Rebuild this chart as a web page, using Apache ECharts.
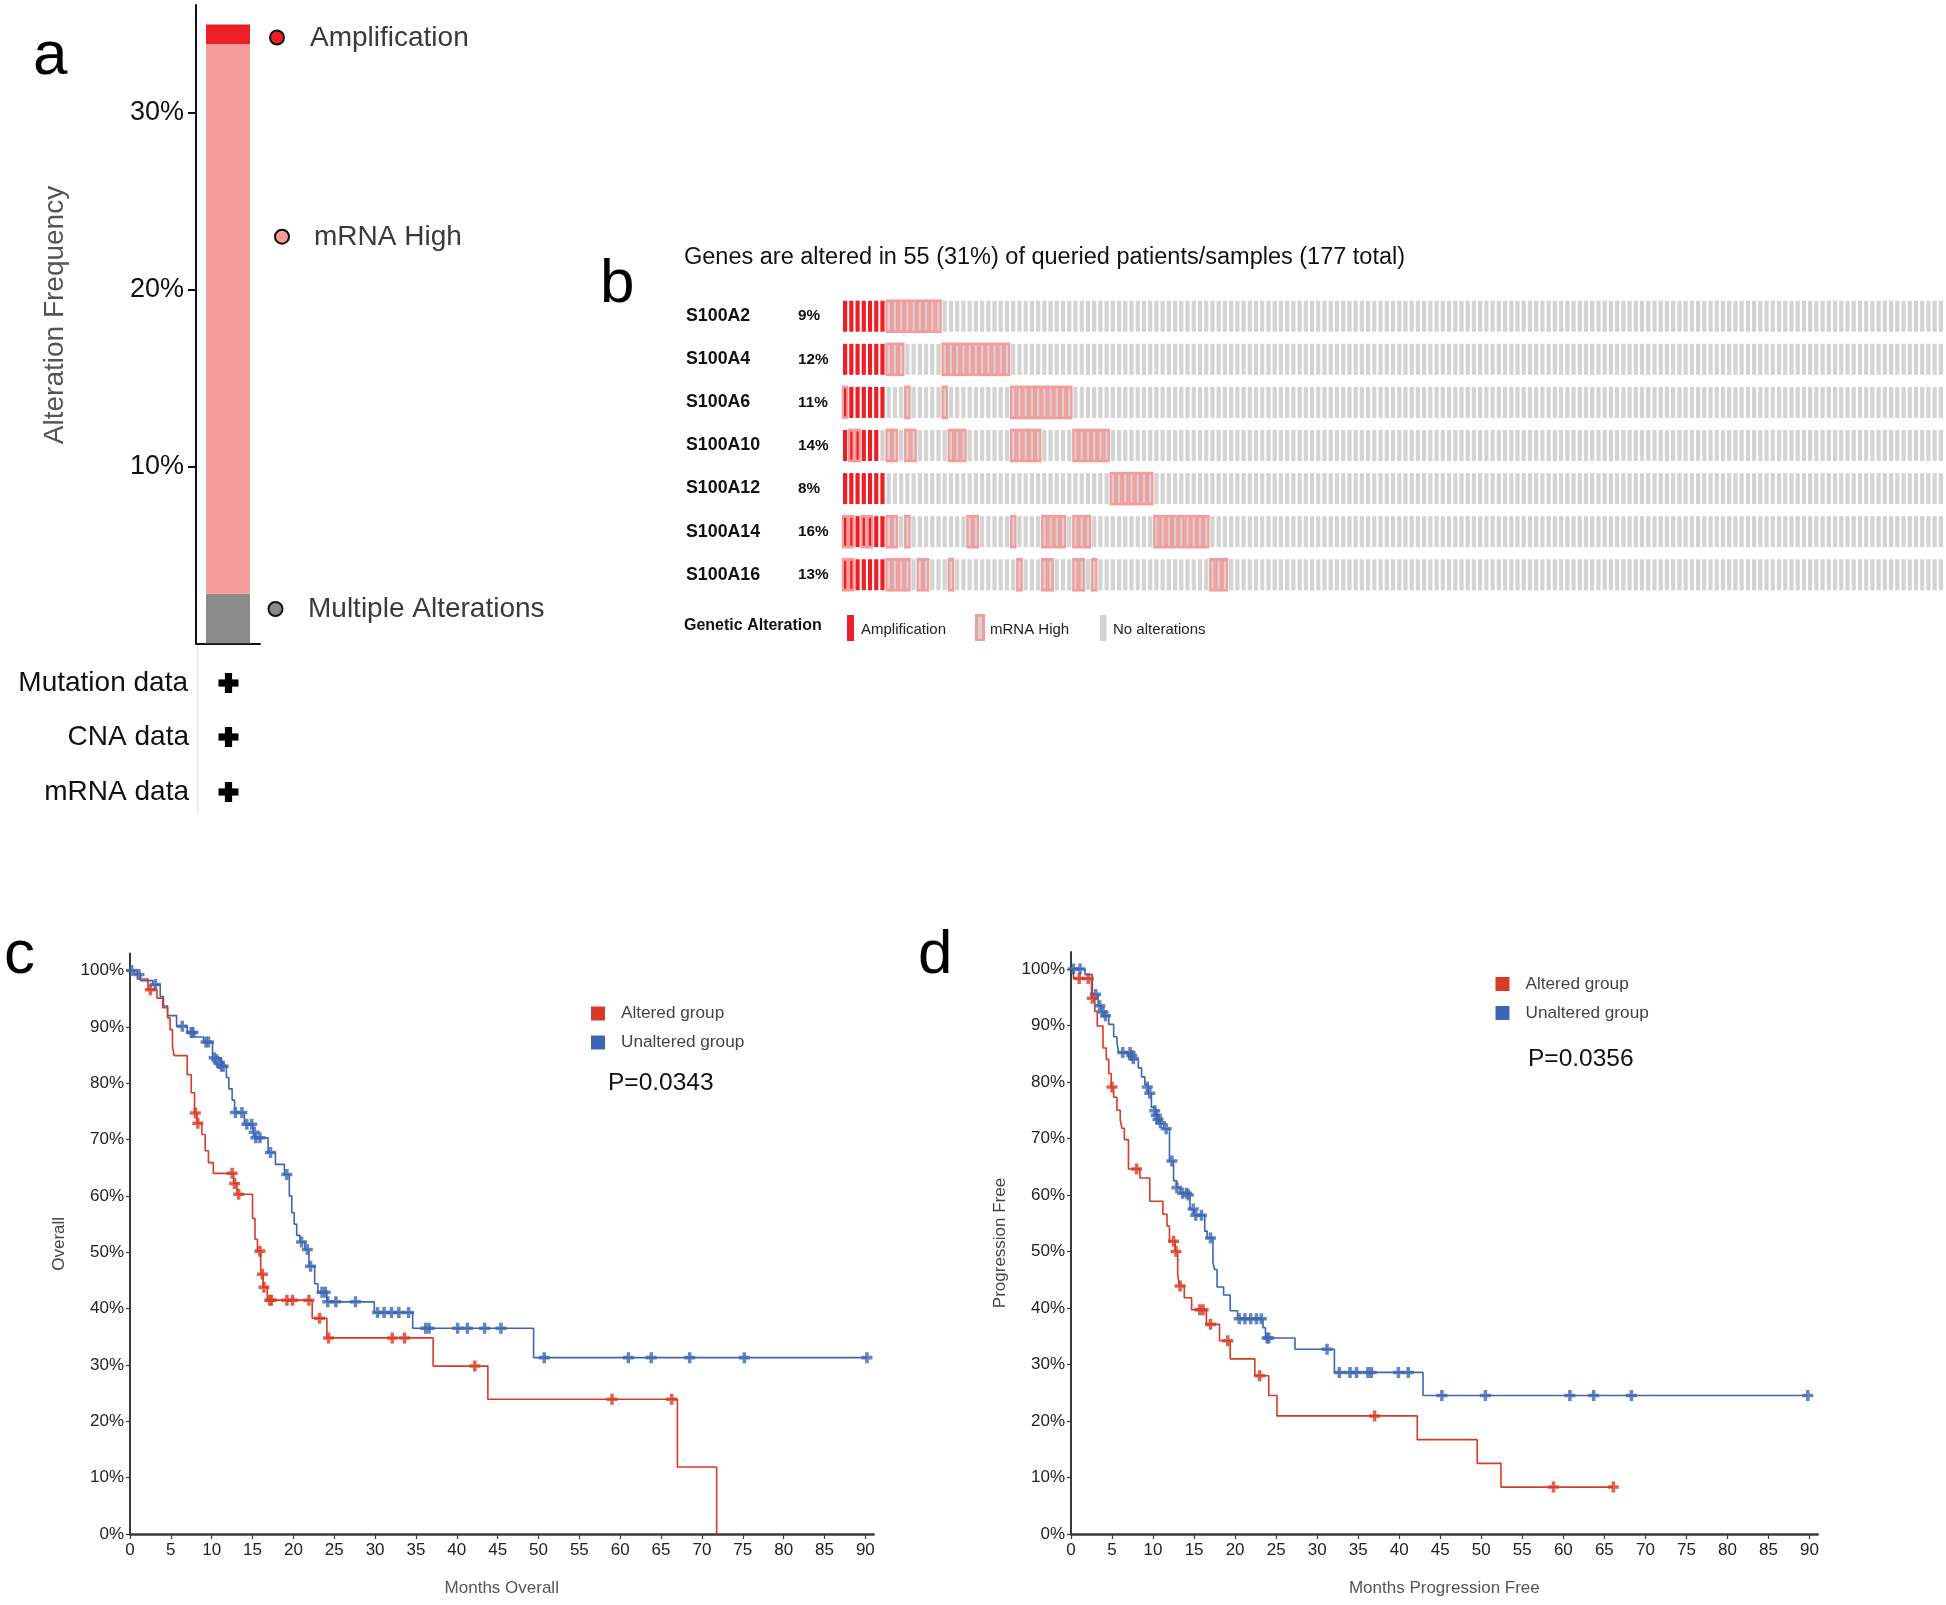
<!DOCTYPE html>
<html><head><meta charset="utf-8">
<script src="https://cdn.jsdelivr.net/npm/echarts@6/dist/echarts.min.js"></script>
<style>html,body{margin:0;padding:0;background:#fff}#chart{width:1946px;height:1605px}</style>
</head><body><div id="chart"></div>
<script>
const FONT = "'Liberation Sans', Arial, Helvetica, sans-serif";

// ---------- Panel a: alteration frequency ----------
const aCategory = ['S100 family'];
const multipleAlterations = [2.8];
const mrnaHighFreq = [31.1];
const amplificationFreq = [1.1];
const aYTicks = [10, 20, 30];
const dataTypes = ['Mutation data', 'CNA data', 'mRNA data'];

// ---------- Panel b: oncoprint ----------
const genes = ['S100A2', 'S100A4', 'S100A6', 'S100A10', 'S100A12', 'S100A14', 'S100A16'];
const genePct = ['9%', '12%', '11%', '14%', '8%', '16%', '13%'];
const sampleTotal = 177;
const ampS100A2 = [0, 1, 2, 3, 4, 5, 6];
const ampS100A4 = [0, 1, 2, 3, 4, 5, 6];
const ampS100A6 = [0, 1, 2, 3, 4, 5, 6];
const ampS100A10 = [0, 1, 2, 3, 4, 5];
const ampS100A12 = [0, 1, 2, 3, 4, 5, 6];
const ampS100A14 = [0, 1, 2, 3, 4, 5, 6];
const ampS100A16 = [0, 1, 2, 3, 4, 5, 6];
const mrnaS100A2 = [7, 8, 9, 10, 11, 12, 13, 14, 15];
const mrnaS100A4 = [7, 8, 9, 16, 17, 18, 19, 20, 21, 22, 23, 24, 25, 26];
const mrnaS100A6 = [0, 10, 16, 27, 28, 29, 30, 31, 32, 33, 34, 35, 36];
const mrnaS100A10 = [1, 2, 7, 8, 10, 11, 17, 18, 19, 27, 28, 29, 30, 31, 37, 38, 39, 40, 41, 42];
const mrnaS100A12 = [43, 44, 45, 46, 47, 48, 49];
const mrnaS100A14 = [0, 1, 3, 4, 7, 8, 10, 20, 21, 27, 32, 33, 34, 35, 37, 38, 39, 50, 51, 52, 53, 54, 55, 56, 57, 58];
const mrnaS100A16 = [0, 1, 7, 8, 9, 10, 12, 13, 17, 28, 32, 33, 37, 38, 40, 59, 60, 61];

// ---------- Panels c/d: Kaplan-Meier ----------
const kmXTicks = [0, 5, 10, 15, 20, 25, 30, 35, 40, 45, 50, 55, 60, 65, 70, 75, 80, 85, 90];
const kmYTicks = [0, 10, 20, 30, 40, 50, 60, 70, 80, 90, 100];

const osAlteredSteps = [[0,100],[0.9,98.5],[2.2,96.6],[3.3,95.1],[4.0,93.4],[4.6,91.6],[4.9,89.5],[5.2,86.6],[5.4,84.9],[7.0,81.5],[7.5,78.3],[7.9,74.7],[8.2,72.9],[8.8,70.9],[9.2,68.0],[9.6,65.9],[10.2,64.0],[12.7,62.2],[13.1,60.3],[15.0,56.0],[15.3,52.3],[15.6,50.2],[16.0,46.1],[16.3,43.8],[16.8,41.5],[22.3,38.3],[24.1,34.8],[37.1,29.8],[43.8,23.9],[67.0,11.9],[71.8,0]];
const osAlteredCensor = [[2.5,96.6],[8.0,74.7],[8.3,72.9],[12.5,64.0],[12.8,62.2],[13.3,60.3],[15.9,50.2],[16.2,46.1],[16.4,43.8],[17.1,41.5],[17.3,41.5],[19.2,41.5],[19.9,41.5],[21.9,41.5],[23.2,38.3],[24.3,34.8],[32.1,34.8],[33.6,34.8],[42.2,29.8],[59.0,23.9],[66.3,23.9]];
const osUnalteredSteps = [[0,100],[0.5,99.4],[1.3,98.2],[2.8,97.5],[3.7,95.4],[4.1,93.7],[4.6,92.0],[5.7,90.1],[7.0,89.0],[7.9,88.2],[9.0,87.3],[10.1,84.5],[11.2,83.0],[11.8,81.0],[12.1,79.0],[12.5,77.0],[12.8,74.8],[14.0,72.7],[15.1,71.3],[15.3,70.3],[16.9,67.7],[17.8,65.6],[18.9,63.8],[19.5,60.0],[19.8,57.0],[20.1,55.0],[20.4,53.0],[20.8,51.8],[21.4,50.5],[21.9,47.5],[22.6,44.4],[23.0,42.9],[24.1,41.2],[29.9,39.3],[34.6,36.5],[49.4,31.3],[90.2,31.3]];
const osUnalteredCensor = [[0.2,100],[1.1,99.3],[3.1,97.5],[6.4,90.1],[7.5,89.0],[7.7,89.0],[9.3,87.3],[9.6,87.3],[10.3,84.5],[10.6,84.2],[10.9,83.5],[11.2,83.0],[11.4,83.0],[12.9,74.8],[13.7,74.8],[14.3,72.7],[14.9,72.7],[15.2,71.3],[15.4,70.3],[15.9,70.3],[17.2,67.7],[19.2,63.8],[21.0,51.8],[21.7,50.5],[22.1,47.5],[23.5,42.9],[23.9,42.9],[24.2,41.2],[25.2,41.2],[27.6,41.2],[30.3,39.3],[31.1,39.3],[32.0,39.3],[32.9,39.3],[34.1,39.3],[36.2,36.5],[36.6,36.5],[40.1,36.5],[41.3,36.5],[43.4,36.5],[45.4,36.5],[50.7,31.3],[61.0,31.3],[63.8,31.3],[68.5,31.3],[75.2,31.3],[90.2,31.3]];

const pfsAlteredSteps = [[0,100],[0.3,98.3],[2.5,94.8],[2.9,92.5],[3.2,89.9],[3.9,86.0],[4.3,84.0],[4.6,81.5],[4.9,79.1],[5.2,77.3],[5.6,75.0],[6.0,73.3],[6.2,71.8],[6.5,69.8],[7.0,64.6],[8.4,63.0],[9.6,58.9],[11.2,56.6],[11.7,54.5],[12.0,51.8],[12.7,50.0],[13.0,46.0],[13.2,43.9],[13.8,41.8],[14.7,39.7],[16.5,37.1],[18.1,34.2],[19.4,31.0],[22.4,28.0],[24.1,24.5],[25.1,20.9],[42.2,16.7],[49.5,12.5],[52.4,8.3],[66.1,8.3]];
const pfsAlteredCensor = [[1.0,98.3],[2.1,98.3],[2.6,94.8],[5.0,79.1],[8.0,64.6],[12.5,51.8],[12.8,50.0],[13.3,43.9],[15.7,39.7],[16.1,39.7],[17.0,37.1],[19.1,34.2],[23.0,28.0],[37.0,20.9],[58.8,8.3],[66.1,8.3]];
const pfsUnalteredSteps = [[0,100],[1.7,99.0],[2.6,95.5],[3.3,93.5],[3.7,92.4],[4.0,91.7],[4.6,90.2],[5.2,88.0],[5.6,87.0],[5.8,85.2],[7.0,84.5],[7.4,84.0],[8.2,82.5],[8.6,80.9],[9.0,79.5],[9.4,78.0],[9.8,75.5],[10.3,74.3],[10.6,73.1],[10.9,72.6],[11.3,71.7],[12.0,66.0],[12.5,62.5],[12.9,61.3],[13.3,60.3],[14.5,57.5],[15.0,56.4],[16.3,53.6],[16.6,52.4],[17.3,48.0],[17.5,46.8],[17.8,43.7],[18.6,42.3],[19.4,39.5],[20.3,38.1],[23.4,36.5],[23.7,34.7],[27.3,32.7],[32.1,28.6],[42.9,24.5],[89.8,24.5]];
const pfsUnalteredCensor = [[0.3,100],[1.1,100],[3.0,95.5],[3.5,93.5],[3.9,92.4],[4.2,91.7],[6.3,85.2],[7.2,85.2],[7.4,84.7],[7.6,84.1],[9.3,79.1],[9.6,78.0],[10.2,74.9],[10.4,74.1],[10.6,73.4],[10.9,72.8],[11.6,71.7],[12.3,66.0],[12.9,61.3],[13.6,60.3],[14.1,60.3],[14.3,60.0],[14.9,57.5],[15.2,56.4],[15.9,56.4],[17.0,52.4],[20.5,38.1],[21.2,38.1],[21.9,38.1],[22.6,38.1],[23.2,38.1],[23.9,34.7],[24.1,34.7],[31.2,32.7],[32.7,28.6],[34.0,28.6],[34.8,28.6],[36.2,28.6],[36.6,28.6],[39.9,28.6],[41.1,28.6],[45.2,24.5],[50.5,24.5],[60.8,24.5],[63.7,24.5],[68.3,24.5],[89.8,24.5]];

// ---------- build oncoprint table ----------
const ampLists = [ampS100A2, ampS100A4, ampS100A6, ampS100A10, ampS100A12, ampS100A14, ampS100A16];
const mrnaLists = [mrnaS100A2, mrnaS100A4, mrnaS100A6, mrnaS100A10, mrnaS100A12, mrnaS100A14, mrnaS100A16];
const cells = [];
for (let g = 0; g < genes.length; g++) {
  for (let i = 0; i < sampleTotal; i++) {
    let t = 0;
    if (ampLists[g].includes(i)) t |= 1;
    if (mrnaLists[g].includes(i)) t |= 2;
    cells.push([i, g, t]);
  }
}

const C_AMP = '#ec1f26', C_MRNA = '#f49c9c', C_NONE = '#d3d3d3', C_MULTI = '#8a8a8a';
const RED = '#d93a26', BLUE = '#3c66b4';
const PLUS = 'path://M3.4,0H6.6V3.4H10V6.6H6.6V10H3.4V6.6H0V3.4H3.4Z';
const CELL_H = 31;

function plusGlyph(cx, cy) {
  return [
    { type: 'rect', shape: { x: cx - 10, y: cy - 3.6, width: 20, height: 7.2 }, style: { fill: '#000' } },
    { type: 'rect', shape: { x: cx - 3.6, y: cy - 10, width: 7.2, height: 20 }, style: { fill: '#000' } }
  ];
}
function txt(text, x, y, size, opts) {
  opts = opts || {};
  return {
    type: 'text', x: x, y: y, rotation: opts.rotation || 0,
    style: {
      text: text, fill: opts.color || '#111',
      font: (opts.weight || 'normal') + ' ' + size + 'px ' + FONT,
      align: opts.align || 'left', verticalAlign: opts.valign || 'middle',
      textAlign: opts.align || 'left', textVerticalAlign: opts.valign || 'middle'
    }
  };
}

function kmX(gi, name) {
  return {
    gridIndex: gi, type: 'value', min: 0, max: 91, interval: 5,
    axisLine: { show: true, lineStyle: { color: '#3a3a3a', width: 2.5 } },
    axisTick: { show: true, length: 5, customValues: kmXTicks, lineStyle: { color: '#3a3a3a', width: 1.2 } },
    axisLabel: { customValues: kmXTicks, fontSize: 17, color: '#222', margin: 8, fontFamily: FONT },
    splitLine: { show: false },
    name: name, nameLocation: 'middle', nameGap: 46,
    nameTextStyle: { fontSize: 17, color: '#555', fontFamily: FONT }
  };
}
function kmY(gi, name) {
  return {
    gridIndex: gi, type: 'value', min: 0, max: 103, interval: 10,
    axisLine: { show: true, lineStyle: { color: '#3a3a3a', width: 2 } },
    axisTick: { show: true, length: 4, customValues: kmYTicks, lineStyle: { color: '#3a3a3a', width: 1.2 } },
    axisLabel: { customValues: kmYTicks, formatter: '{value}%', fontSize: 17, color: '#222', margin: 6, fontFamily: FONT },
    splitLine: { show: false },
    name: name, nameLocation: 'middle', nameRotate: 90, nameGap: 62,
    nameTextStyle: { fontSize: 17, color: '#444', fontFamily: FONT }
  };
}
function kmLine(name, data, color, xi, yi) {
  return { type: 'line', name: name, xAxisIndex: xi, yAxisIndex: yi, data: data, step: 'end',
    showSymbol: false, symbol: 'none', lineStyle: { color: color, width: 1.6 }, itemStyle: { color: color }, z: 3, silent: true };
}
function kmCensor(name, data, color, xi, yi) {
  return { type: 'scatter', name: name, xAxisIndex: xi, yAxisIndex: yi, data: data, symbol: PLUS,
    symbolSize: 11, itemStyle: { color: color }, z: 4, silent: true };
}

const graphics = [
  txt('a', 33, 57, 62, { color: '#000' }),
  txt('b', 600, 285, 62, { color: '#000' }),
  txt('c', 4, 956, 62, { color: '#000' }),
  txt('d', 918, 956, 62, { color: '#000' }),
  // panel a decorations
  txt('Alteration Frequency', 55, 315, 28, { color: '#555', align: 'center', rotation: Math.PI / 2 }),
  { type: 'circle', shape: { cx: 277, cy: 37.5, r: 7 }, style: { fill: C_AMP, stroke: '#111', lineWidth: 2 } },
  txt('Amplification', 310, 38, 28, { color: '#3a3a3a' }),
  { type: 'circle', shape: { cx: 282, cy: 236.7, r: 7 }, style: { fill: C_MRNA, stroke: '#111', lineWidth: 2 } },
  txt('mRNA High', 314, 237, 28, { color: '#3a3a3a' }),
  { type: 'circle', shape: { cx: 275.5, cy: 609, r: 7 }, style: { fill: C_MULTI, stroke: '#111', lineWidth: 2 } },
  txt('Multiple Alterations', 308, 609, 28, { color: '#3a3a3a' }),
  { type: 'line', shape: { x1: 197.5, y1: 645, x2: 197.5, y2: 815 }, style: { stroke: '#e6e6e6', lineWidth: 1.5 } },
  txt(dataTypes[0], 188, 683, 28, { align: 'right', color: '#111' }),
  txt(dataTypes[1], 189, 737, 28, { align: 'right', color: '#111' }),
  txt(dataTypes[2], 189, 792, 28, { align: 'right', color: '#111' }),
  ...plusGlyph(228.5, 683), ...plusGlyph(228.5, 737), ...plusGlyph(228.5, 792),
  // panel b title & legend
  txt('Genes are altered in 55 (31%) of queried patients/samples (177 total)', 684, 258, 23.5, { color: '#111' }),
  txt('Genetic Alteration', 684, 626, 16, { weight: 'bold', color: '#111' }),
  { type: 'rect', shape: { x: 847, y: 615, width: 7, height: 26 }, style: { fill: C_AMP } },
  txt('Amplification', 861, 630, 15, { color: '#222' }),
  { type: 'rect', shape: { x: 975, y: 614, width: 10, height: 27 }, style: { fill: C_MRNA } },
  { type: 'rect', shape: { x: 978, y: 616.5, width: 4, height: 22 }, style: { fill: C_NONE } },
  txt('mRNA High', 990, 630, 15, { color: '#222' }),
  { type: 'rect', shape: { x: 1100, y: 615, width: 6.5, height: 26 }, style: { fill: C_NONE } },
  txt('No alterations', 1113, 630, 15, { color: '#222' }),
  // p-values
  txt('P=0.0343', 608, 1083, 24.5, { color: '#111' }),
  txt('P=0.0356', 1528, 1059, 24.5, { color: '#111' })
];

const option = {
  animation: false,
  backgroundColor: '#fff',
  textStyle: { fontFamily: FONT },
  grid: [
    { left: 196, top: 5, width: 64, height: 638.3 },
    { left: 842, top: 294.7, width: 1102, height: 301.6 },
    { left: 130, top: 953.6, width: 743.5, height: 580.4 },
    { left: 1071, top: 952, width: 746.7, height: 582 }
  ],
  xAxis: [
    { gridIndex: 0, type: 'category', data: aCategory,
      axisLine: { show: true, lineStyle: { color: '#111', width: 2 } },
      axisTick: { show: false }, axisLabel: { show: false } },
    { gridIndex: 1, type: 'value', min: 0, max: sampleTotal, show: false },
    kmX(2, 'Months Overall'),
    kmX(3, 'Months Progression Free')
  ],
  yAxis: [
    { gridIndex: 0, type: 'value', min: 0, max: 36.1, interval: 10,
      axisLine: { show: true, lineStyle: { color: '#111', width: 2 } },
      axisTick: { show: true, length: 8, customValues: aYTicks, lineStyle: { color: '#111', width: 2 } },
      axisLabel: { customValues: aYTicks, formatter: '{value}%', fontSize: 27, color: '#111', margin: 12,
        padding: [6, 0, 0, 0], fontFamily: FONT },
      splitLine: { show: false } },
    { gridIndex: 1, type: 'category', data: genes, inverse: true, position: 'left',
      axisLine: { show: false }, axisTick: { show: false },
      axisLabel: { align: 'left', margin: 156, fontWeight: 'bold', fontSize: 17.8, color: '#111', fontFamily: FONT } },
    { gridIndex: 1, type: 'category', data: genePct, inverse: true, position: 'left', offset: 0,
      axisLine: { show: false }, axisTick: { show: false },
      axisLabel: { align: 'left', margin: 44, fontWeight: 'bold', fontSize: 15.3, color: '#111', fontFamily: FONT } },
    kmY(2, 'Overall'),
    kmY(3, 'Progression Free')
  ],
  legend: [
    { data: ['Altered group', 'Unaltered group'], orient: 'vertical', left: 591, top: 1005,
      itemWidth: 14, itemHeight: 14, itemGap: 12, icon: 'rect', selectedMode: false, padding: 0,
      itemStyle: { borderWidth: 0 },
      textStyle: { fontSize: 17.2, color: '#444', padding: [0, 0, 0, 11], fontFamily: FONT } },
    { data: ['Altered group', 'Unaltered group'], orient: 'vertical', left: 1495.5, top: 975.5,
      itemWidth: 14, itemHeight: 14, itemGap: 12, icon: 'rect', selectedMode: false, padding: 0,
      itemStyle: { borderWidth: 0 },
      textStyle: { fontSize: 17.2, color: '#444', padding: [0, 0, 0, 11], fontFamily: FONT } }
  ],
  series: [
    { type: 'bar', name: 'Multiple Alterations', xAxisIndex: 0, yAxisIndex: 0, stack: 'freq', data: multipleAlterations,
      barWidth: 44, itemStyle: { color: C_MULTI }, silent: true },
    { type: 'bar', name: 'mRNA High', xAxisIndex: 0, yAxisIndex: 0, stack: 'freq', data: mrnaHighFreq,
      barWidth: 44, itemStyle: { color: C_MRNA }, silent: true },
    { type: 'bar', name: 'Amplification', xAxisIndex: 0, yAxisIndex: 0, stack: 'freq', data: amplificationFreq,
      barWidth: 44, itemStyle: { color: C_AMP }, silent: true },
    { type: 'custom', name: 'oncoprint', xAxisIndex: 1, yAxisIndex: 1, data: cells, encode: { x: 0, y: 1 }, silent: true,
      renderItem: function (params, api) {
        const i = api.value(0), g = api.value(1), t = api.value(2);
        const c = api.coord([i + 0.5, g]);
        const sw = api.size([1, 0])[0];
        const h = CELL_H;
        const ch = [];
        if (t & 2) {
          ch.push({ type: 'rect', shape: { x: c[0] - sw / 2 - 0.2, y: c[1] - h / 2 - 1.3, width: sw + 0.4, height: h + 2.6 }, style: { fill: C_MRNA } });
          ch.push({ type: 'rect', shape: { x: c[0] - 1.1, y: c[1] - h / 2 + 1.5, width: 2.2, height: h - 3 }, style: { fill: (t & 1) ? C_AMP : C_NONE } });
        } else {
          ch.push({ type: 'rect', shape: { x: c[0] - 2.1, y: c[1] - h / 2, width: 4.2, height: h }, style: { fill: (t & 1) ? C_AMP : C_NONE } });
        }
        return { type: 'group', children: ch };
      } },
    kmLine('Unaltered group', osUnalteredSteps, BLUE, 2, 3),
    kmLine('Altered group', osAlteredSteps, RED, 2, 3),
    kmCensor('Unaltered censored OS', osUnalteredCensor, BLUE, 2, 3),
    kmCensor('Altered censored OS', osAlteredCensor, RED, 2, 3),
    kmLine('Unaltered group', pfsUnalteredSteps, BLUE, 3, 4),
    kmLine('Altered group', pfsAlteredSteps, RED, 3, 4),
    kmCensor('Unaltered censored PFS', pfsUnalteredCensor, BLUE, 3, 4),
    kmCensor('Altered censored PFS', pfsAlteredCensor, RED, 3, 4)
  ],
  graphic: graphics
};

const chart = echarts.init(document.getElementById('chart'), null, { renderer: 'canvas' });
chart.setOption(option);
</script></body></html>
